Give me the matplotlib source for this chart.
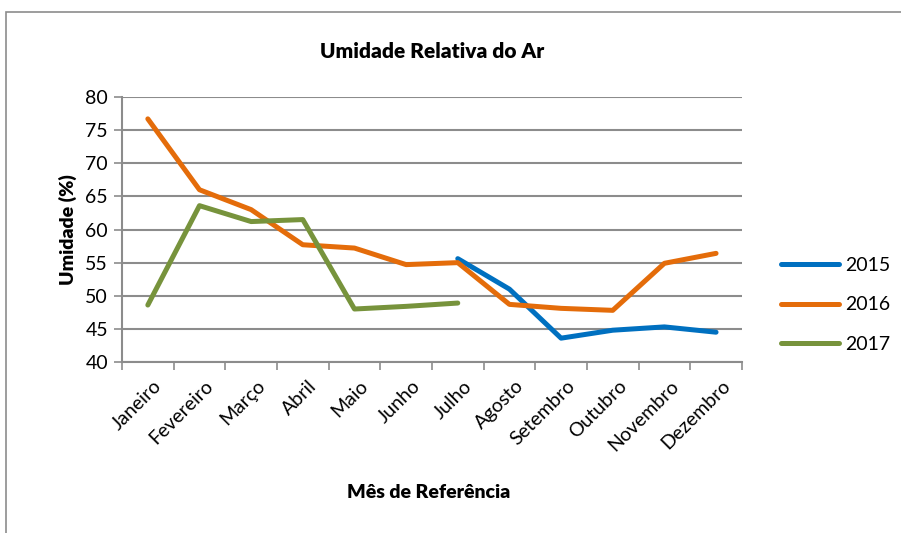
import numpy as np
import matplotlib.pyplot as plt
from matplotlib.patches import Rectangle

plt.rcParams['font.family'] = ['Lato', 'DejaVu Sans']

meses = ['Janeiro', 'Fevereiro', 'Março', 'Abril', 'Maio', 'Junho', 'Julho',
         'Agosto', 'Setembro', 'Outubro', 'Novembro', 'Dezembro']

# valores (nan = sem dado)
u2015 = [np.nan, np.nan, np.nan, np.nan, np.nan, np.nan, 55.6, 51.0, 43.6, 44.8, 45.3, 44.5]
u2016 = [76.7, 66.0, 63.0, 57.7, 57.2, 54.7, 55.0, 48.7, 48.1, 47.8, 54.9, 56.4]
u2017 = [48.6, 63.6, 61.2, 61.5, 48.0, 48.4, 48.9, np.nan, np.nan, np.nan, np.nan, np.nan]

anos = ['2015', '2016', '2017']
cores = ['#0070C0', '#E46C0A', '#77933C']

fig = plt.figure(figsize=(9.01, 5.33), dpi=100)
ax = fig.add_axes([0.1354, 0.3208, 0.688, 0.4972])

# moldura do grafico
fig.patches.append(Rectangle((6/901, -0.01), 1.0, 1 - 12/533 + 0.01, transform=fig.transFigure,
                             fill=False, edgecolor='#8c8c8c', linewidth=1.2))

x = np.arange(len(meses))
for serie, nome, cor in zip([u2015, u2016, u2017], anos, cores):
    ax.plot(x, serie, color=cor, linewidth=3.6, label=nome, solid_capstyle='round')

ax.set_xlim(-0.5, 11.5)
ax.set_ylim(40, 80)
ax.set_yticks(np.arange(40, 81, 5))
ax.yaxis.grid(True, color='#8c8c8c', linewidth=1.5)
ax.set_axisbelow(True)

ax.set_xticks(np.arange(-0.5, 12, 1))
ax.set_xticklabels([])
ax.set_xticks(x + 0.1, minor=True)
ax.set_xticklabels(meses, minor=True, rotation=45, ha='right', va='top',
                   rotation_mode='anchor', fontsize=14)
ax.tick_params(axis='x', which='minor', length=0, pad=11)
ax.tick_params(axis='x', which='major', length=6, color='#8c8c8c', width=1.2)
ax.tick_params(axis='y', length=6, color='#8c8c8c', width=1.2, labelsize=14, pad=4)

for s in ['top', 'right']:
    ax.spines[s].set_visible(False)
for s in ['left', 'bottom']:
    ax.spines[s].set_color('#8c8c8c')
    ax.spines[s].set_linewidth(1.5)

ax.set_title('Umidade Relativa do Ar', fontsize=15, fontweight='heavy', pad=28)
ax.set_ylabel('Umidade (%)', fontsize=14, fontweight='heavy', labelpad=6)
fig.text(0.476, 0.065, 'Mês de Referência', fontsize=14, fontweight='heavy', ha='center')

ax.legend(loc='center left', bbox_to_anchor=(0.847, 0.428), bbox_transform=fig.transFigure,
          frameon=False, fontsize=14, handlelength=3.0, labelspacing=1.15, handletextpad=0.3)

fig.savefig('out.png', dpi=100)
